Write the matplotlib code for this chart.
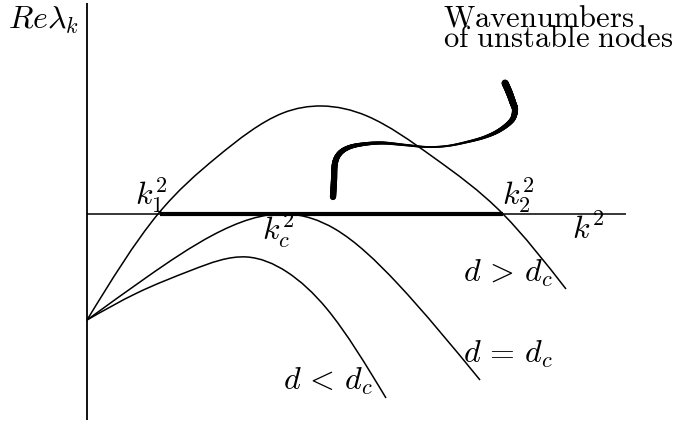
import numpy as np
import matplotlib
matplotlib.use("Agg")
import matplotlib.pyplot as plt
from matplotlib.path import Path
from matplotlib.patches import PathPatch
from matplotlib.collections import LineCollection

plt.rcParams['mathtext.fontset'] = 'cm'

# Curves: (k^2, Re lambda)
upper_x = [0.00, 0.71, 1.30, 1.96, 2.35, 2.80, 3.46, 4.16, 4.79]
upper_y = [-1.06, 0.00, 0.57, 1.01, 1.08, 0.98, 0.57, 0.00, -0.75]

middle_x = [0.00, 0.60, 1.26, 2.01, 2.48, 3.10, 3.93]
middle_y = [-1.06, -0.63, -0.21, 0.00, -0.15, -0.69, -1.66]

lower_x = [0.00, 0.50, 1.05, 1.60, 2.00, 2.40, 2.99]
lower_y = [-1.06, -0.79, -0.56, -0.43, -0.58, -0.95, -1.84]

# unstable band k1^2 .. k2^2
band = [0.73, 4.16]

# hand-drawn pointer stroke
squig_x = [2.46, 2.47, 2.48, 2.53, 2.63, 2.78, 2.96, 3.18, 3.40, 3.60, 3.80, 3.98, 4.13, 4.25, 4.28, 4.26, 4.22, 4.18]
squig_y = [0.17, 0.34, 0.51, 0.61, 0.67, 0.70, 0.71, 0.69, 0.67, 0.68, 0.72, 0.77, 0.84, 0.94, 1.04, 1.11, 1.22, 1.31]
squig_w = [4.5, 4.5, 4.3, 3.8, 3.2, 2.6, 2.2, 1.7, 1.4, 1.4, 1.7, 2.2, 3.0, 3.8, 4.4, 4.8, 5.0, 5.0]


def spline_path(xs, ys):
    """Natural cubic spline through the points, expressed as Bezier segments."""
    x = np.asarray(xs, float)
    y = np.asarray(ys, float)
    n = len(x)
    h = np.diff(x)
    A = np.zeros((n, n))
    r = np.zeros(n)
    A[0, 0] = 1
    A[-1, -1] = 1
    for i in range(1, n - 1):
        A[i, i - 1] = h[i - 1]
        A[i, i] = 2 * (h[i - 1] + h[i])
        A[i, i + 1] = h[i]
        r[i] = 6 * ((y[i + 1] - y[i]) / h[i] - (y[i] - y[i - 1]) / h[i - 1])
    M = np.linalg.solve(A, r)
    d = np.zeros(n)
    for i in range(n - 1):
        d[i] = (y[i + 1] - y[i]) / h[i] - h[i] * (2 * M[i] + M[i + 1]) / 6
    d[-1] = (y[-1] - y[-2]) / h[-1] + h[-1] * (M[-2] + 2 * M[-1]) / 6
    verts = [(x[0], y[0])]
    codes = [Path.MOVETO]
    for i in range(n - 1):
        verts += [(x[i] + h[i] / 3, y[i] + d[i] * h[i] / 3),
                  (x[i + 1] - h[i] / 3, y[i + 1] - d[i + 1] * h[i] / 3),
                  (x[i + 1], y[i + 1])]
        codes += [Path.CURVE4] * 3
    return Path(verts, codes)


def catmull_sample(xs, ys, ws, m=20):
    p = np.column_stack([xs, ys]).astype(float)
    w = np.asarray(ws, float)
    n = len(p)
    pts, wid = [], []
    for i in range(n - 1):
        p0 = p[i - 1] if i > 0 else p[i]
        p1 = p[i]
        p2 = p[i + 1]
        p3 = p[i + 2] if i + 2 < n else p[i + 1]
        c1 = p1 + (p2 - p0) / 6.0
        c2 = p2 - (p3 - p1) / 6.0
        for t in np.linspace(0, 1, m, endpoint=False):
            b = ((1 - t) ** 3) * p1 + 3 * ((1 - t) ** 2) * t * c1 + 3 * (1 - t) * t * t * c2 + t ** 3 * p2
            pts.append(b)
            wid.append(w[i] * (1 - t) + w[i + 1] * t)
    pts.append(p[-1])
    wid.append(w[-1])
    return np.array(pts), np.array(wid)


fig = plt.figure(figsize=(6.79, 4.21), dpi=100)
ax = fig.add_axes([0, 0, 1, 1])
ax.set_xlim(-0.87, 5.92)
ax.set_ylim(-2.07, 2.14)
ax.axis('off')

# axes
ax.plot([0, 0], [-2.06, 2.11], color='black', lw=1.3, solid_capstyle='butt')
ax.plot([0, 5.39], [0, 0], color='black', lw=1.1, solid_capstyle='butt')

for xs, ys in [(upper_x, upper_y), (middle_x, middle_y), (lower_x, lower_y)]:
    ax.add_patch(PathPatch(spline_path(xs, ys), facecolor='none', edgecolor='black', lw=1.1))

ax.plot(band, [0, 0], color='black', lw=3.0, solid_capstyle='butt')

pts, wid = catmull_sample(squig_x, squig_y, squig_w)
segs = np.stack([pts[:-1], pts[1:]], axis=1)
lc = LineCollection(segs, linewidths=(wid[:-1] + wid[1:]) / 2, colors='black', capstyle='round')
ax.add_collection(lc)

# labels
ax.text(-0.79, 1.85, r'$Re\lambda_k$', fontsize=23, va='baseline', ha='left')
ax.text(3.56, 1.67, '$\\mathrm{Wavenumbers}$\n$\\mathrm{of\\ unstable\\ nodes}$',
        fontsize=22, va='baseline', ha='left', linespacing=0.62)
ax.text(0.48, 0.09, r'$k_1^2$', fontsize=23, va='baseline', ha='left')
ax.text(1.75, -0.26, r'$k_c^2$', fontsize=23, va='baseline', ha='left')
ax.text(4.15, 0.09, r'$k_2^2$', fontsize=23, va='baseline', ha='left')
ax.text(4.85, -0.25, r'$k^2$', fontsize=23, va='baseline', ha='left')
ax.text(3.76, -0.68, r'$d\,>\,d_c$', fontsize=23, va='baseline', ha='left')
ax.text(3.76, -1.49, r'$d\,=\,d_c$', fontsize=23, va='baseline', ha='left')
ax.text(1.96, -1.76, r'$d\,<\,d_c$', fontsize=23, va='baseline', ha='left')

fig.savefig('out.png', dpi=100, facecolor='white')
